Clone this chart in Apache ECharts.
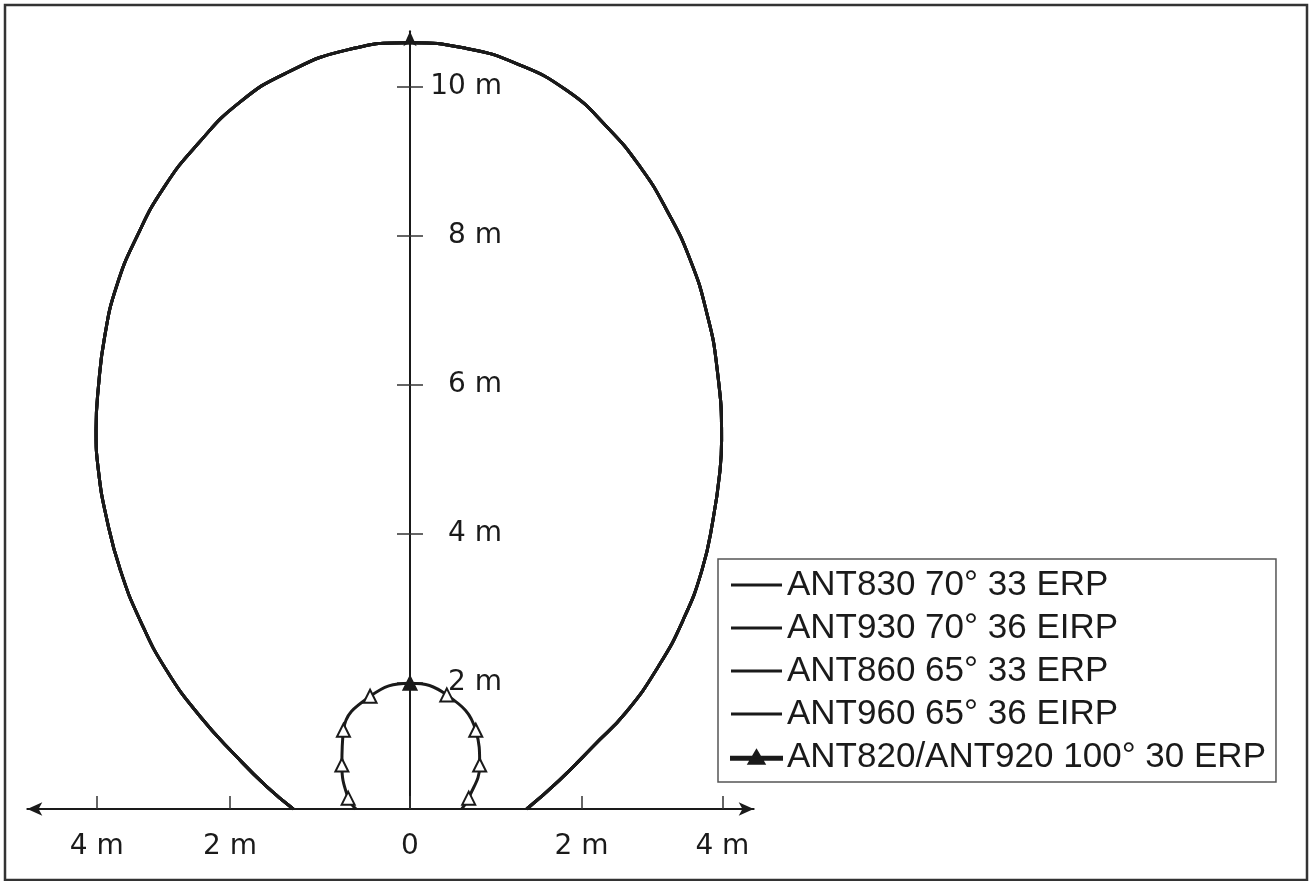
<!DOCTYPE html>
<html>
<head>
<meta charset="utf-8">
<script src="https://cdn.jsdelivr.net/npm/echarts@6/dist/echarts.min.js"></script>
<style>
html,body{margin:0;padding:0;background:#fff;}
#c{width:1309px;height:881px;}
</style>
</head>
<body>
<div id="c"></div>
<script>
// ---- data (metres) ----
const seriesNames = ['ANT830 70° 33 ERP', 'ANT930 70° 36 EIRP', 'ANT860 65° 33 ERP', 'ANT960 65° 36 EIRP', 'ANT820/ANT920 100° 30 ERP'];

// large coverage pattern (shared by the four 65°/70° antennas)
const bigX = [-1.49, -1.83, -2.21, -2.68, -3.11, -3.45, -3.70, -3.87, -3.98, -4.01, -3.98, -3.90, -3.75, -3.49, -3.14, -2.70, -2.18, -1.58, -0.80, 0,
              0.72, 1.36, 2.00, 2.51, 2.94, 3.28, 3.58, 3.79, 3.92, 3.98, 3.96, 3.87, 3.73, 3.49, 3.17, 2.76, 2.35, 1.91, 1.49];
const bigY = [0, 0.31, 0.72, 1.28, 1.92, 2.62, 3.31, 4.00, 4.69, 5.25, 5.84, 6.54, 7.23, 7.92, 8.61, 9.22, 9.78, 10.19, 10.51, 10.61,
              10.53, 10.32, 9.95, 9.45, 8.89, 8.29, 7.60, 6.87, 6.12, 5.11, 4.69, 4.00, 3.31, 2.62, 1.97, 1.34, 0.88, 0.40, 0];

// small coverage pattern (100° antennas)
const smallX = [-0.69, -0.79, -0.87, -0.85, -0.51, 0, 0.47, 0.84, 0.89, 0.75, 0.66];
const smallY = [0, 0.15, 0.61, 1.09, 1.56, 1.74, 1.58, 1.09, 0.61, 0.15, 0];

// axis ticks / labels
const xTickValues = [-4, -2.3, 0, 2.19, 3.99];
const xTickLabels = ['4 m', '2 m', '0', '2 m', '4 m'];
const yTickValues = [1.744, 3.817, 5.88, 7.933, 10];
const yTickLabels = ['2 m', '4 m', '6 m', '8 m', '10 m'];

const xMin = -4.888, xMax = 4.39, yMin = 0, yMax = 10.767;

function lookup(values, labels, v) {
  let best = 0, d = Infinity;
  values.forEach((t, i) => { const dd = Math.abs(t - v); if (dd < d) { d = dd; best = i; } });
  return labels[best];
}

const ink = '#1a1a1a';
const bigData = bigX.map((x, i) => [x, bigY[i]]);
const topIdx = smallY.indexOf(Math.max.apply(null, smallY));
const smallData = smallX.map((x, i) => i === topIdx
  ? { value: [x, smallY[i]], itemStyle: { color: ink } }
  : [x, smallY[i]]);

const series = [];
for (let k = 0; k < 4; k++) {
  series.push({
    name: seriesNames[k],
    type: 'line',
    data: bigData,
    smooth: 0.5,
    symbol: 'none',
    lineStyle: { color: ink, width: 3 },
    itemStyle: { color: ink },
    emphasis: { disabled: true },
    z: 3
  });
}
series.push({
  name: seriesNames[4],
  type: 'line',
  data: smallData,
  smooth: 0.45,
  symbol: function (val, params) {
    return (params.dataIndex === 0 || params.dataIndex === smallX.length - 1) ? 'none' : 'triangle';
  },
  symbolSize: 13,
  showAllSymbol: true,
  lineStyle: { color: ink, width: 3 },
  itemStyle: { color: '#ffffff', borderColor: ink, borderWidth: 2 },
  emphasis: { disabled: true },
  z: 4
});

const gridLeft = 27.3;
const chart = echarts.init(document.getElementById('c'), null, { renderer: 'canvas' });
chart.setOption({
  backgroundColor: '#ffffff',
  animation: false,
  grid: { left: gridLeft, right: 555.3, top: 31.3, bottom: 72, outerBoundsMode: 'none', containLabel: false },
  xAxis: {
    type: 'value', min: xMin, max: xMax,
    axisLine: { show: true, onZero: false, symbol: ['arrow', 'arrow'], symbolSize: [10, 15], lineStyle: { color: ink, width: 2 } },
    axisTick: { show: true, inside: true, length: 13, customValues: xTickValues, lineStyle: { color: '#333', width: 1.5 } },
    axisLabel: {
      show: true, customValues: xTickValues, margin: 24,
      fontSize: 28, fontFamily: 'DejaVu Sans', color: ink,
      formatter: v => lookup(xTickValues, xTickLabels, v)
    },
    splitLine: { show: false }
  },
  yAxis: [{
    type: 'value', min: yMin, max: yMax, position: 'left',
    axisLine: { show: true, onZero: true, symbol: ['none', 'arrow'], symbolSize: [10, 15], lineStyle: { color: ink, width: 2 } },
    axisTick: { show: true, inside: false, length: 13, customValues: yTickValues, lineStyle: { color: '#333', width: 1.5 } },
    axisLabel: {
      show: true, customValues: yTickValues, margin: -(502 - gridLeft), align: 'right',
      padding: [0, 0, 14, 0],
      fontSize: 28, fontFamily: 'DejaVu Sans', color: ink,
      formatter: v => lookup(yTickValues, yTickLabels, v)
    },
    splitLine: { show: false }
  }, {
    type: 'value', min: yMin, max: yMax, position: 'right',
    axisLine: { show: false, onZero: true, onZeroAxisIndex: 0 },
    axisTick: { show: true, inside: false, length: 13, customValues: yTickValues, lineStyle: { color: '#333', width: 1.5 } },
    axisLabel: { show: false },
    splitLine: { show: false }
  }],
  legend: {
    show: true,
    orient: 'vertical',
    left: 718, top: 559,
    padding: [8, 10, 7, 12],
    itemWidth: 51, itemHeight: 16, itemGap: 7,
    borderColor: '#555', borderWidth: 1.5,
    backgroundColor: '#ffffff',
    selectedMode: false,
    textStyle: { fontFamily: 'Liberation Sans', fontSize: 35, lineHeight: 36, color: ink },
    data: [
      { name: seriesNames[0], icon: 'path://M0,0H51V3H0Z' },
      { name: seriesNames[1], icon: 'path://M0,0H51V3H0Z' },
      { name: seriesNames[2], icon: 'path://M0,0H51V3H0Z' },
      { name: seriesNames[3], icon: 'path://M0,0H51V3H0Z' },
      { name: seriesNames[4], icon: 'path://M0,6.5H51V9.5H0Z M17.5,13.5L25.5,0L33.5,13.5Z', itemStyle: { color: ink, borderColor: ink } }
    ]
  },
  graphic: [{
    type: 'rect', silent: true, z: 100,
    shape: { x: 5, y: 5, width: 1302, height: 875 },
    style: { fill: 'none', stroke: '#333', lineWidth: 2.5 }
  }],
  series: series
});
</script>
</body>
</html>
